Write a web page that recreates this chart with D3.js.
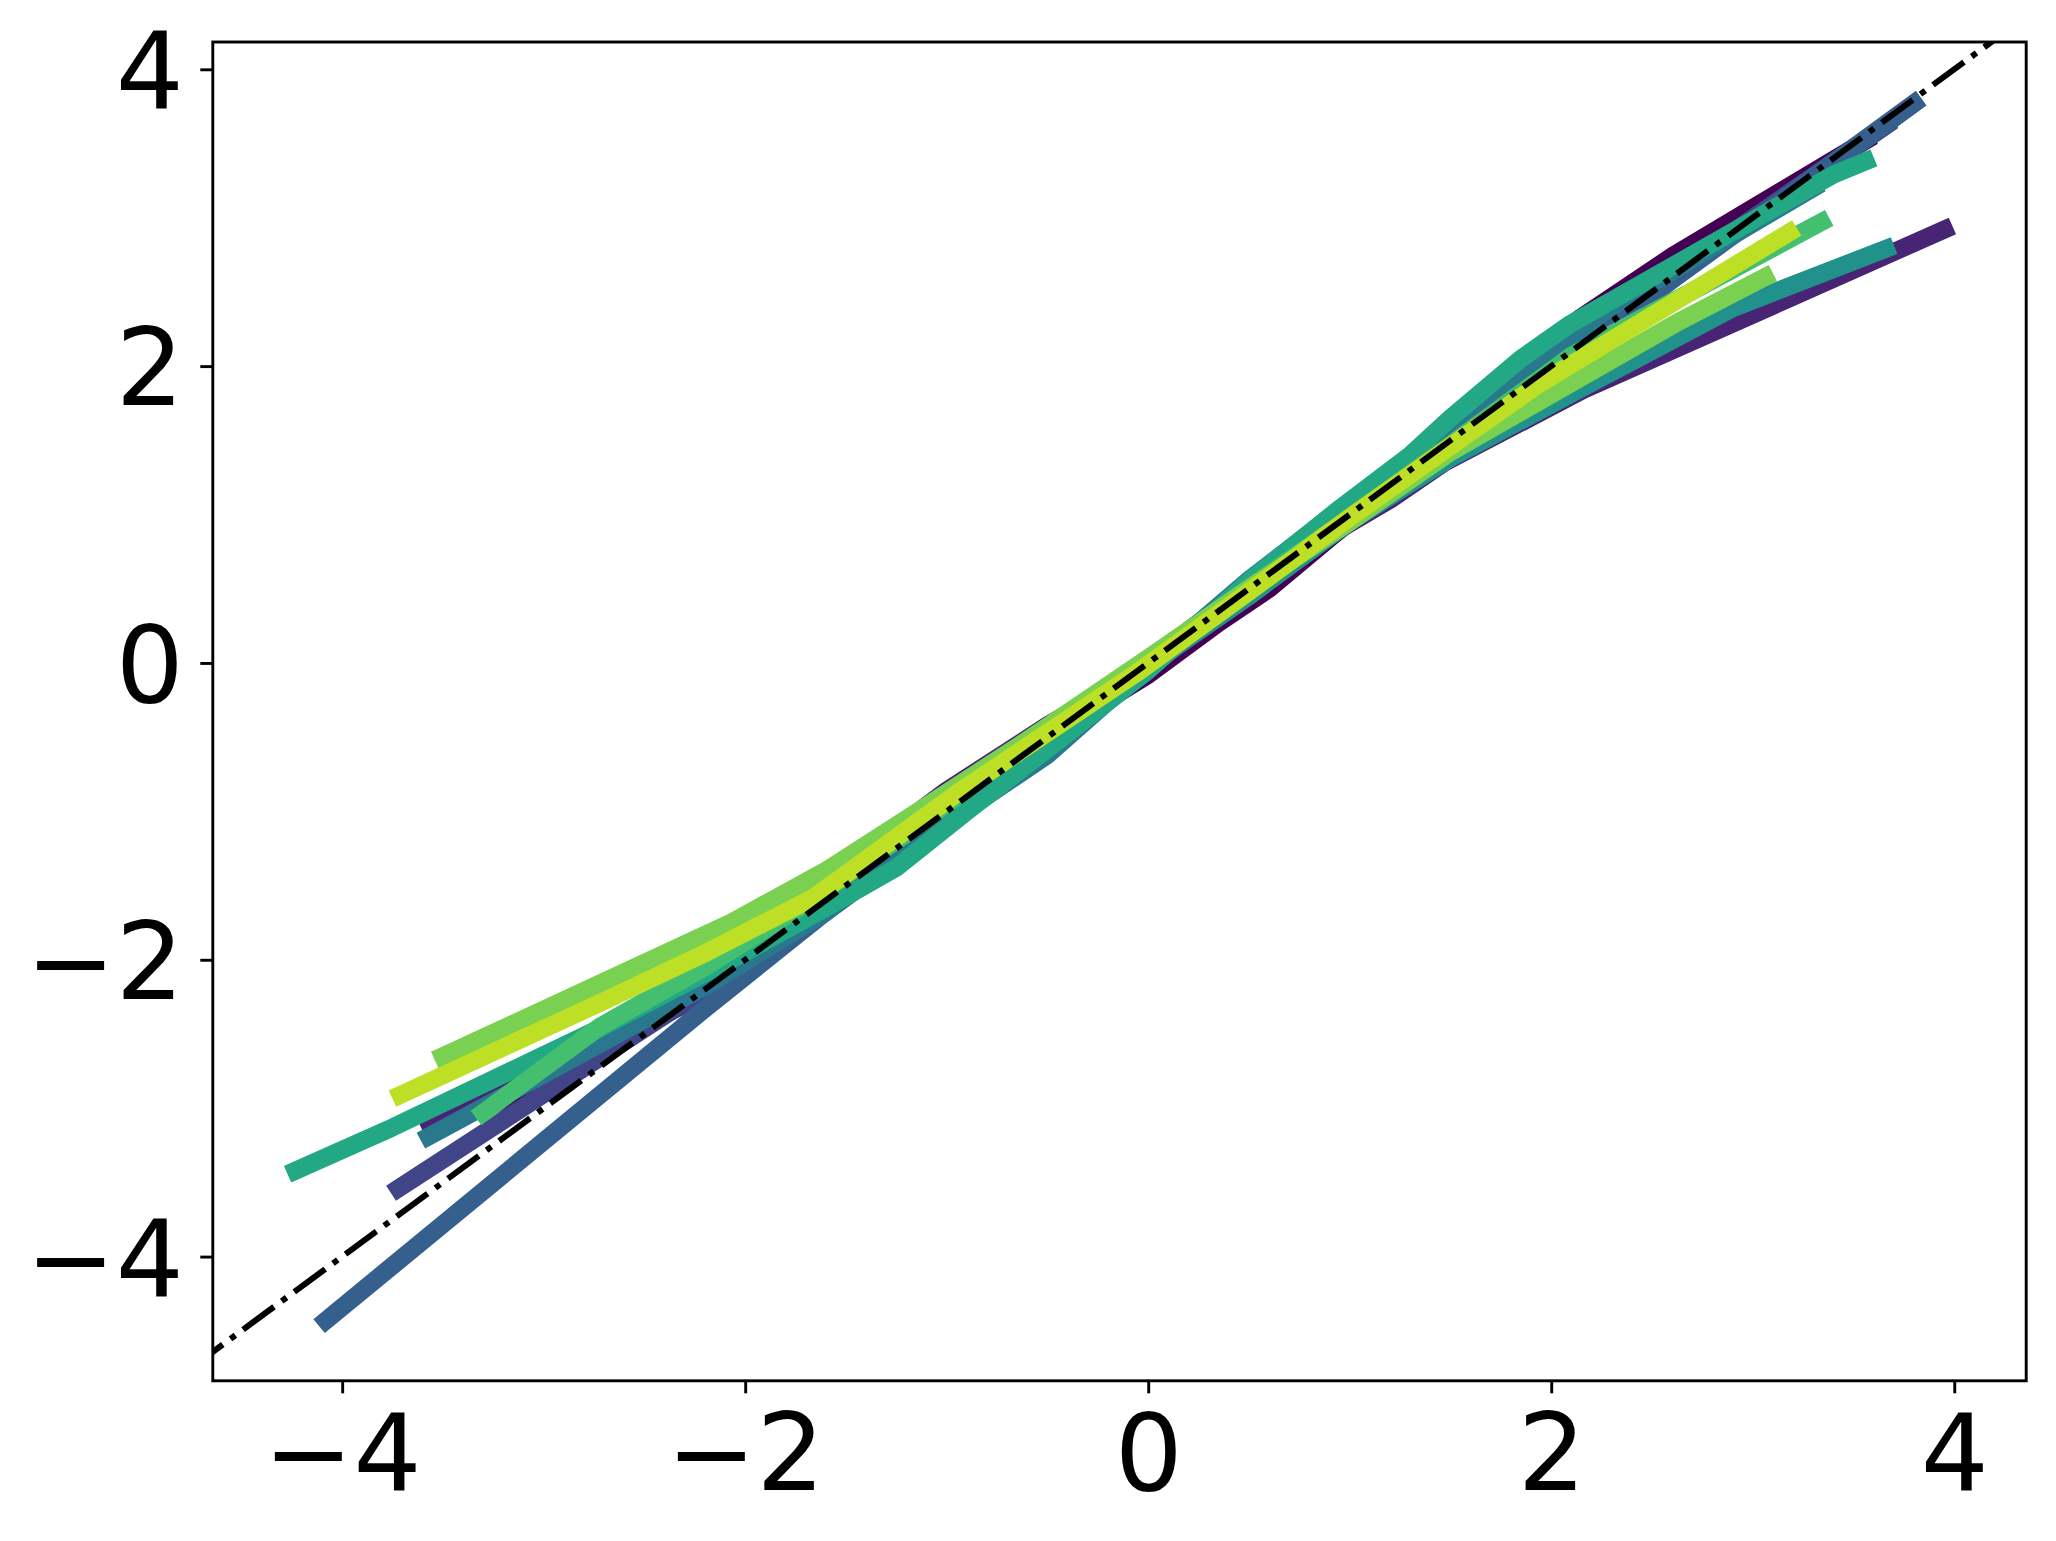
<!DOCTYPE html>
<html><head><meta charset="utf-8">
<script src="https://cdn.jsdelivr.net/npm/d3@7"></script>
<style>body{margin:0;background:#fff}svg{display:block}</style>
</head><body>
<svg id="chart" width="2056" height="1541"></svg>
<script>
// Tick values
const xTicks = [-4, -2, 0, 2, 4];
const yTicks = [-4, -2, 0, 2, 4];
// Series colours (viridis, 10 samples)
const colors = ["#440154","#482475","#414487","#355f8d","#2a788e","#21918c","#22a884","#44bf70","#7ad151","#bddf26"];
// Q-Q series: [theoretical, sample] pairs
const s0 = [[-3.25,-2.98],[-2.33,-2.32],[-1.6,-1.6],[-1.0,-0.94],[-0.5,-0.5],[0,-0.08],[0.35,0.27],[0.6,0.5],[0.9,0.84],[1.2,1.17],[1.5,1.56],[1.8,1.96],[2.15,2.33],[2.6,2.74],[3.56,3.52]];
const s1 = [[-3.57,-3.10],[-2.8,-2.62],[-2.2,-2.15],[-1.75,-1.62],[-1.0,-0.86],[-0.5,-0.42],[0,-0.03],[0.5,0.45],[0.85,0.82],[1.2,1.1],[1.47,1.35],[2.16,1.84],[3.95,2.92]];
const s2 = [[-3.72,-3.54],[-2.2,-2.2],[-1.6,-1.62],[-1.0,-1.02],[-0.5,-0.5],[0,0.02],[0.5,0.5],[1.0,1.0],[1.5,1.52],[2.0,2.02],[2.6,2.62],[3.66,3.62]];
const s3 = [[-4.08,-4.43],[-2.2,-2.33],[-1.62,-1.70],[-1.2,-1.25],[-0.6,-0.66],[-0.2,-0.25],[0.2,0.22],[0.6,0.62],[1.0,1.03],[1.5,1.5],[2.0,1.98],[2.6,2.58],[3.80,3.77]];
const s4 = [[-3.57,-3.19],[-2.9,-2.7],[-2.2,-2.18],[-1.6,-1.68],[-1.0,-1.08],[-0.5,-0.62],[0,-0.02],[0.5,0.56],[0.9,0.98],[1.3,1.38],[1.8,1.9],[2.3,2.4],[2.8,2.8],[3.3,3.2]];
const s5 = [[-3.45,-2.70],[-2.7,-2.25],[-2.1,-1.85],[-1.6,-1.5],[-1.1,-1.05],[-0.5,-0.5],[0,-0.02],[0.5,0.45],[1.0,0.95],[1.5,1.38],[2.15,1.85],[2.9,2.39],[3.66,2.79]];
const s6 = [[-4.23,-3.42],[-3.75,-3.13],[-2.72,-2.46],[-2.0,-1.95],[-1.6,-1.65],[-1.25,-1.38],[-0.9,-1.0],[-0.5,-0.58],[0,-0.05],[0.5,0.55],[0.95,1.04],[1.3,1.40],[1.5,1.65],[1.85,2.05],[2.09,2.28],[3.40,3.29],[3.56,3.38]];
const s7 = [[-3.30,-3.03],[-2.72,-2.45],[-2.2,-2.05],[-1.7,-1.62],[-1.2,-1.15],[-0.7,-0.65],[-0.3,-0.25],[0.2,0.22],[0.6,0.6],[1.0,0.98],[1.5,1.47],[2.1,2.07],[3.34,2.97]];
const s8 = [[-3.50,-2.65],[-2.72,-2.16],[-2.07,-1.75],[-1.6,-1.40],[-1.13,-0.99],[-0.6,-0.52],[0.03,0.06],[0.5,0.5],[1.0,0.95],[1.5,1.42],[2.62,2.29],[3.06,2.60]];
const s9 = [[-3.71,-2.91],[-2.72,-2.29],[-2.19,-1.95],[-1.66,-1.58],[-0.95,-0.88],[-0.06,-0.07],[0.5,0.48],[1.0,0.98],[1.5,1.46],[1.94,1.88],[2.62,2.44],[3.18,2.90]];
const series = [s0, s1, s2, s3, s4, s5, s6, s7, s8, s9];
// Reference line y = x
const refLine = [[-5, -5], [5, 5]];

const L = 212.8, R = 2026.2, T = 42, B = 1380.8;
const x = d3.scaleLinear().domain([-4.642, 4.357]).range([L, R]);
const y = d3.scaleLinear().domain([-4.837, 4.184]).range([B, T]);

const svg = d3.select("#chart");
svg.append("defs").append("clipPath").attr("id", "clip")
  .append("rect").attr("x", L).attr("y", T).attr("width", R - L).attr("height", B - T);

const line = d3.line().x(d => x(d[0])).y(d => y(d[1]));
const g = svg.append("g").attr("clip-path", "url(#clip)");

series.forEach((s, i) => {
  g.append("path").datum(s).attr("d", line)
    .attr("fill", "none").attr("stroke", colors[i])
    .attr("stroke-width", 18).attr("stroke-linecap", "square").attr("stroke-linejoin", "round");
});

g.append("path").datum(refLine).attr("d", line)
  .attr("fill", "none").attr("stroke", "#000").attr("stroke-width", 6)
  .attr("stroke-dasharray", "38.4,9.6,6,9.6").attr("stroke-linecap", "butt");

// Axes
const xAxis = svg.append("g").attr("transform", `translate(0,${B})`)
  .call(d3.axisBottom(x).tickValues(xTicks).tickSize(12.5).tickPadding(12.5));
const yAxis = svg.append("g").attr("transform", `translate(${L},0)`)
  .call(d3.axisLeft(y).tickValues(yTicks).tickSize(12.5).tickPadding(16.5));
[xAxis, yAxis].forEach(a => {
  a.select(".domain").remove();
  a.selectAll(".tick line").attr("stroke", "#000").attr("stroke-width", 2.9);
  a.selectAll(".tick text").attr("fill", "#000")
    .style("font-family", "'DejaVu Sans'").style("font-size", "107px");
});
xAxis.selectAll(".tick text").attr("dy", "0.785em");
yAxis.selectAll(".tick text").attr("dy", "0.36em");

// Frame
svg.append("rect").attr("x", L).attr("y", T).attr("width", R - L).attr("height", B - T)
  .attr("fill", "none").attr("stroke", "#000").attr("stroke-width", 2.9);
</script>
</body></html>
